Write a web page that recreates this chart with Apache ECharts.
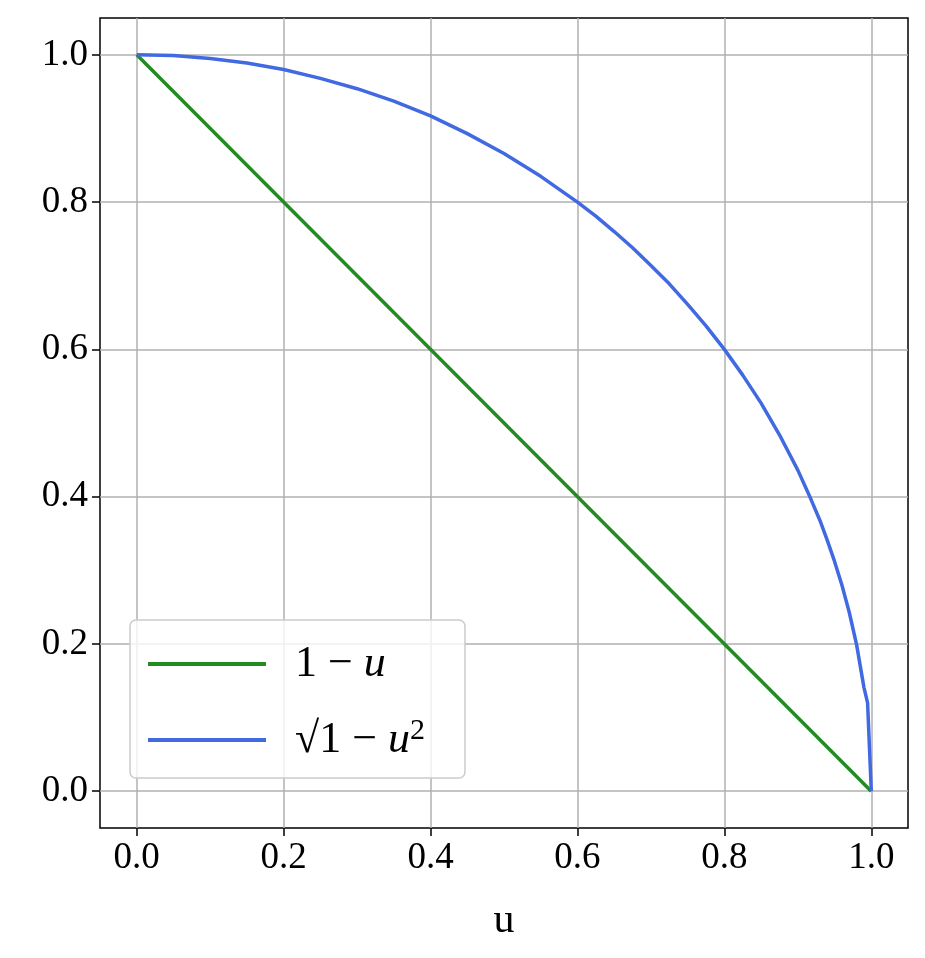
<!DOCTYPE html>
<html>
<head>
<meta charset="utf-8" />
<script src="https://cdn.jsdelivr.net/npm/echarts@6/dist/echarts.min.js"></script>
</head>
<body style="margin:0">
<div id="main" style="width:925px;height:958px"></div>
<script>
var ticks = [0, 0.2, 0.4, 0.6, 0.8, 1.0];
// 1 - u
var linU = [0, 1];
var linV = [1, 0];
// sqrt(1 - u^2)
var circU = [0, 0.05, 0.1, 0.15, 0.2, 0.25, 0.3, 0.35, 0.4, 0.45, 0.5, 0.55, 0.6, 0.625, 0.65, 0.675, 0.7, 0.725, 0.75, 0.775, 0.8, 0.825, 0.85, 0.875, 0.9, 0.915, 0.93, 0.94, 0.95, 0.96, 0.97, 0.98, 0.99, 0.995, 1.0];
var circV = [1, 0.999, 0.995, 0.989, 0.98, 0.968, 0.954, 0.937, 0.917, 0.893, 0.866, 0.835, 0.8, 0.781, 0.76, 0.738, 0.714, 0.689, 0.661, 0.632, 0.6, 0.565, 0.527, 0.484, 0.436, 0.403, 0.368, 0.341, 0.312, 0.28, 0.243, 0.199, 0.141, 0.12, 0];

function pairs(xs, ys) { return xs.map(function (x, i) { return [x, ys[i]]; }); }

var font = "Liberation Serif";
var axisCommon = {
  type: "value", min: -0.05, max: 1.05,
  axisLine: { show: false, onZero: false },
  axisTick: { show: true, length: 8, lineStyle: { color: "#000", width: 1.5 }, customValues: ticks },
  axisLabel: { customValues: ticks, fontFamily: font, fontSize: 37, color: "#000", margin: 12,
    formatter: function (v) { return v.toFixed(1); } },
  splitLine: { show: true, lineStyle: { color: "#b0b0b0", width: 1.5 } }
};
var chart = echarts.init(document.getElementById("main"));
chart.setOption({
  animation: false,
  backgroundColor: "#fff",
  grid: { left: 100, right: 17, top: 18, bottom: 130, show: true, borderColor: "#000", borderWidth: 1.5 },
  xAxis: Object.assign({}, axisCommon, {
    name: "u", nameLocation: "middle", nameGap: 72,
    nameTextStyle: { fontFamily: font, fontSize: 42, color: "#000" }
  }),
  yAxis: Object.assign({}, axisCommon),
  legend: {
    orient: "vertical", left: 130, top: 620,
    itemWidth: 118, itemHeight: 4, itemGap: 30,
    padding: [22, 40, 16, 18],
    backgroundColor: "rgba(255,255,255,0.8)", borderColor: "#ccc", borderWidth: 1.5, borderRadius: 6,
    icon: "rect",
    textStyle: {
      fontFamily: font, fontSize: 44, color: "#000", padding: [0, 0, 0, 24],
      rich: {
        i: { fontFamily: font, fontStyle: "italic", fontSize: 44 },
        s: { fontFamily: font, fontSize: 30, verticalAlign: "top", padding: [0, 0, 18, 0] }
      }
    },
    formatter: function (n) {
      return n === "lin" ? "1 − {i|u}" : "√1 − {i|u}{s|2}";
    },
    data: ["lin", "circ"]
  },
  series: [
    { name: "lin", type: "line", data: pairs(linU, linV), showSymbol: false,
      color: "#228b22", lineStyle: { width: 3.5, color: "#228b22" } },
    { name: "circ", type: "line", data: pairs(circU, circV), showSymbol: false,
      color: "#4169e1", lineStyle: { width: 3.5, color: "#4169e1" } }
  ]
});
</script>
</body>
</html>
